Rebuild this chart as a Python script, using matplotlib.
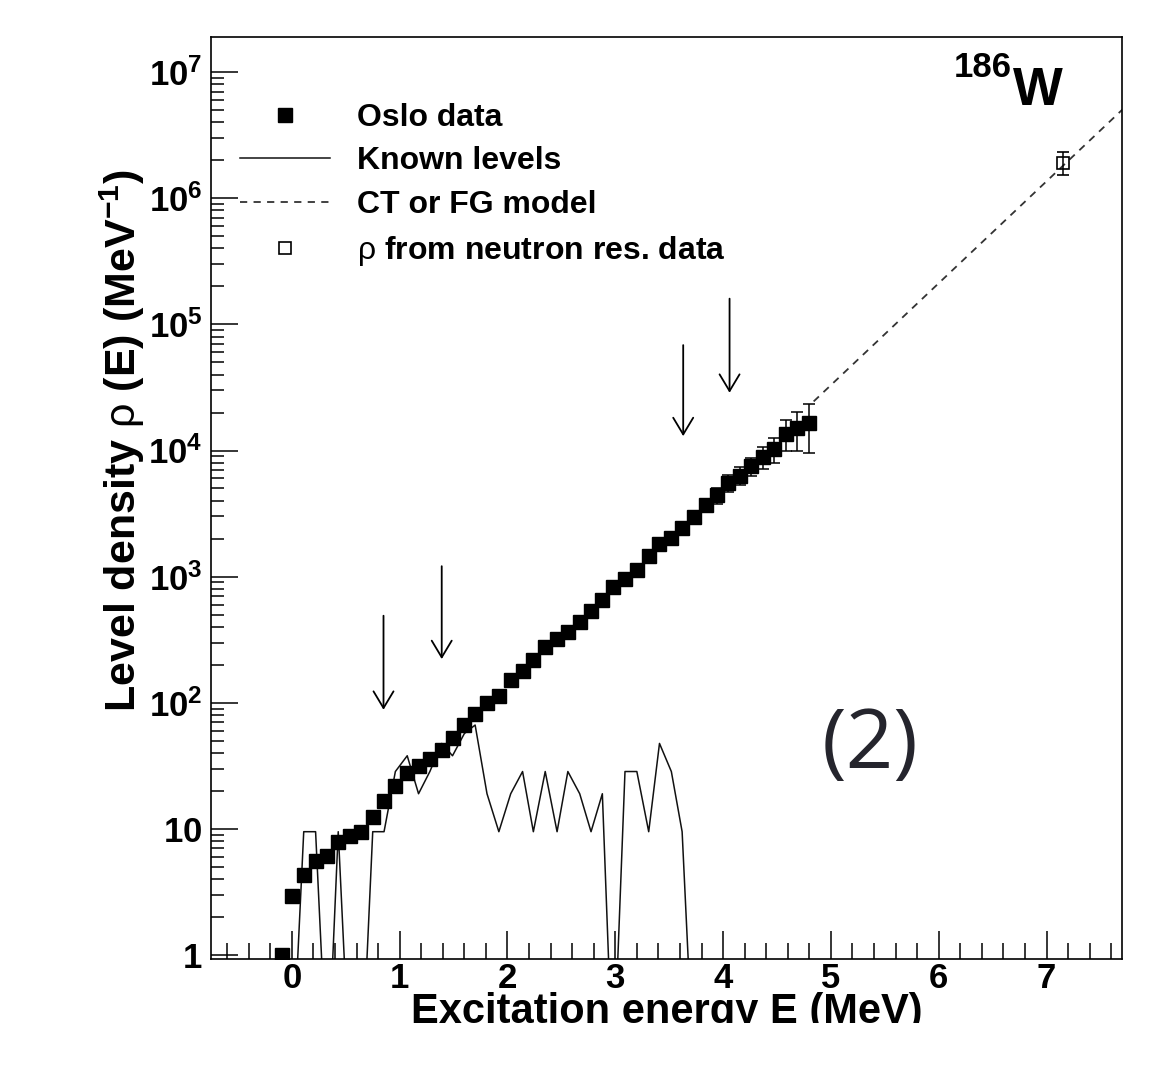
import numpy as np
import matplotlib
matplotlib.use('Agg')
import matplotlib.pyplot as plt
from matplotlib import font_manager
from matplotlib.patches import Rectangle
from matplotlib.ticker import MultipleLocator, LogLocator, NullFormatter

# Oslo data (level density, MeV^-1)
E_oslo = [-0.095, 0.0, 0.11, 0.22, 0.33, 0.43, 0.54, 0.645, 0.75, 0.855,
          0.96, 1.07, 1.175, 1.28, 1.39, 1.49, 1.60, 1.70, 1.81, 1.92,
          2.03, 2.14, 2.24, 2.35, 2.46, 2.56, 2.67, 2.775, 2.88, 2.98,
          3.09, 3.20, 3.31, 3.41, 3.52, 3.62, 3.73, 3.84, 3.94, 4.05,
          4.155, 4.26, 4.37, 4.47, 4.58, 4.69, 4.80]
rho_oslo = [1.0, 2.95, 4.3, 5.6, 6.1, 7.8, 8.8, 9.5, 12.5, 16.5,
            21.7, 27.7, 31.8, 35.7, 42.5, 52.5, 66.8, 82, 99, 113,
            152, 180, 220, 278, 318, 365, 440, 530, 650, 822,
            964, 1137, 1450, 1800, 2030, 2430, 2980, 3680, 4400, 5540,
            6330, 7500, 8900, 10300, 13600, 15000, 16400]
rho_oslo_err = [0.05, 0.15, 0.2, 0.3, 0.3, 0.4, 0.4, 0.5, 0.6, 0.8,
                1.1, 1.4, 1.6, 1.8, 2.1, 2.6, 3.3, 4.1, 5, 6,
                8, 9, 11, 14, 16, 18, 22, 27, 33, 41,
                58, 68, 87, 110, 140, 190, 300, 440, 660, 870,
                1050, 1250, 1700, 2270, 3700, 5100, 6800]

# known levels (same binning, 0 = no level in bin)
E_levels = [-0.095, 0.0, 0.11, 0.22, 0.33, 0.43, 0.54, 0.645, 0.75, 0.855,
            0.96, 1.07, 1.175, 1.28, 1.39, 1.49, 1.60, 1.70, 1.81, 1.92,
            2.03, 2.14, 2.24, 2.35, 2.46, 2.56, 2.67, 2.775, 2.88, 2.98,
            3.09, 3.20, 3.31, 3.41, 3.52, 3.62, 3.73]
rho_levels = [0, 0, 9.5, 9.5, 0, 9.5, 0, 0, 9.5, 9.5,
              28.5, 38, 19, 28.5, 47.6, 38, 57, 66.6, 19, 9.5,
              19, 28.5, 9.5, 28.5, 9.5, 28.5, 19, 9.5, 19, 0,
              28.5, 28.5, 9.5, 47.6, 28.5, 9.5, 0]

# CT / FG model extrapolation
E_model = [4.84, 7.75]
rho_model = [2.45e4, 5.5e6]

# rho from neutron resonance data
E_neutron = [7.15]
rho_neutron = [1.92e6]
rho_neutron_err = [0.4e6]

# arrows marking the normalisation regions
arrow_E = [0.85, 1.39, 3.63, 4.06]
arrow_top = [490, 1210, 68500, 160000]
arrow_tip = [88, 222, 13000, 28700]

x_ticks = [0, 1, 2, 3, 4, 5, 6, 7]
y_ticks = [1, 10, 1e2, 1e3, 1e4, 1e5, 1e6, 1e7]
y_tick_labels = [r'$\mathbf{1}$', r'$\mathbf{10}$', r'$\mathbf{10^{2}}$', r'$\mathbf{10^{3}}$',
                 r'$\mathbf{10^{4}}$', r'$\mathbf{10^{5}}$', r'$\mathbf{10^{6}}$', r'$\mathbf{10^{7}}$']

names = {f.name for f in font_manager.fontManager.ttflist}
tick_font = 'Liberation Sans Narrow' if 'Liberation Sans Narrow' in names else 'Liberation Sans'

plt.rcParams['font.family'] = ['Liberation Sans', 'DejaVu Sans']
plt.rcParams['mathtext.fontset'] = 'custom'
plt.rcParams['mathtext.rm'] = 'Liberation Sans'
plt.rcParams['mathtext.it'] = 'Liberation Sans:italic'
plt.rcParams['mathtext.bf'] = tick_font + ':bold'

fig = plt.figure(figsize=(11.55, 10.91), dpi=100)
ax = fig.add_axes([0.1827, 0.121, 0.7887, 0.8451])

lev = np.array(rho_levels, dtype=float)
lev_draw = np.where(lev > 0, lev, 0.1)
known, = ax.plot(E_levels, lev_draw, color='#111111', lw=1.1, zorder=2)

model, = ax.plot(E_model, rho_model, ls='--', dashes=(4, 3.5), color='#333333', lw=1.3, zorder=2)

oslo = ax.errorbar(E_oslo, rho_oslo, yerr=rho_oslo_err, fmt='s', ms=10, color='black',
                   ecolor='black', elinewidth=1.1, capsize=4, capthick=1.1, zorder=3)

neut = ax.errorbar(E_neutron, rho_neutron, yerr=rho_neutron_err, fmt='s', ms=9,
                   mfc='none', mec='black', mew=1.2, ecolor='black', elinewidth=1.1,
                   capsize=4, capthick=1.1, zorder=3)

for e, top, tip in zip(arrow_E, arrow_top, arrow_tip):
    ax.annotate('', xy=(e, tip), xytext=(e, top),
                arrowprops=dict(arrowstyle='->,head_length=0.6,head_width=0.36',
                                mutation_scale=20, lw=1.3, color='black',
                                shrinkA=0, shrinkB=0))

ax.set_yscale('log')
ax.set_xlim(-0.75, 7.7)
ax.set_ylim(0.93, 1.9e7)

ax.set_xticks(x_ticks)
ax.set_xticklabels([str(t) for t in x_ticks], fontsize=25, fontweight='bold', family=tick_font)
ax.xaxis.set_minor_locator(MultipleLocator(0.2))
ax.set_yticks(y_ticks)
ax.set_yticklabels(y_tick_labels, fontsize=25)
ax.yaxis.set_minor_locator(LogLocator(base=10, subs=np.arange(2, 10)))
ax.yaxis.set_minor_formatter(NullFormatter())

ax.tick_params(axis='x', which='major', direction='in', length=20, width=1.1, pad=2,
               top=False)
ax.tick_params(axis='x', which='minor', direction='in', length=11.5, width=1.1, top=False)
ax.tick_params(axis='y', which='major', direction='in', length=19.5, width=1.1, pad=6,
               right=False)
ax.tick_params(axis='y', which='minor', direction='in', length=9.5, width=1.1, right=False)
for s in ax.spines.values():
    s.set_linewidth(1.2)

ax.set_xlabel('Excitation energy E (MeV)', fontsize=30, fontweight='bold')
ax.xaxis.label.set_verticalalignment('baseline')
ax.xaxis.set_label_coords(0.5, -0.069)
ax.set_ylabel(r'Level density $\mathrm{\rho}$ (E) (MeV$^{\mathbf{-1}}$)', fontsize=31,
              fontweight='bold')
ax.yaxis.set_label_coords(-0.07, 0.562)

ax.legend([oslo.lines[0], known, model, neut.lines[0]],
          ['Oslo data', 'Known levels', 'CT or FG model', r'$\mathrm{\rho}$ from neutron res. data'],
          loc='upper left', bbox_to_anchor=(0.0318, 0.9287), frameon=False,
          prop={'size': 23, 'weight': 'bold'}, handlelength=2.82, handletextpad=0.85,
          labelspacing=0.43, borderpad=0, borderaxespad=0, numpoints=1)

fig.text(0.876, 0.9294, '186', fontsize=25, fontweight='bold', ha='right', va='baseline')
fig.text(0.877, 0.9038, 'W', fontsize=38, fontweight='bold', ha='left', va='baseline')

fig.text(0.7532, 0.3153, '(2)', fontsize=60, family=['Open Sans', 'DejaVu Sans'],
         color='#25252d', ha='center', va='center')

# the source figure is cut off just under the axis title
fig.patches.append(Rectangle((0, 0), 1, 0.062, transform=fig.transFigure,
                             facecolor='white', edgecolor='none', zorder=10))

fig.savefig('out.png', dpi=100)
